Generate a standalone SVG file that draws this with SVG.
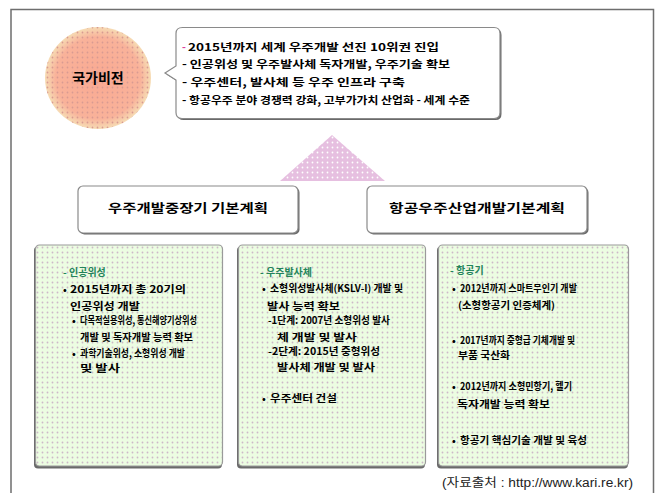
<svg xmlns="http://www.w3.org/2000/svg" width="659" height="493" viewBox="0 0 659 493">
<defs>
<pattern id="dotG" width="5" height="5" patternUnits="userSpaceOnUse">
<rect width="5" height="5" fill="#ecfde2"/>
<circle cx="2.5" cy="2.5" r="0.9" fill="#cdb8c8"/>
</pattern>
<pattern id="dotR" width="5" height="5" patternUnits="userSpaceOnUse">
<rect width="5" height="5" fill="none"/>
<circle cx="2.5" cy="2.5" r="0.9" fill="#d99a92"/>
</pattern>
<pattern id="dotP" width="5" height="5" patternUnits="userSpaceOnUse">
<rect width="5" height="5" fill="#e6bfe0"/>
<circle cx="2.5" cy="2.5" r="0.9" fill="#ffffff"/>
</pattern>
<radialGradient id="sun" cx="0.5" cy="0.5" r="0.5">
<stop offset="0" stop-color="#f9a992"/>
<stop offset="0.8" stop-color="#f9b29a"/>
<stop offset="1" stop-color="#f6dcb4"/>
</radialGradient>
</defs>
<style>
text{font-family:"Noto Sans CJK KR","Noto Sans",sans-serif;font-weight:bold;fill:#000}
.c{font-size:10.5px}
.b{font-size:10px}
.t{font-size:12.5px}
.g{fill:#23845a}
.pk{fill:#e0409a}
.sh{fill:#6a6a6a}
.box{fill:url(#dotG);stroke:#9a9a9a;stroke-width:1.2}
.wb{fill:#fff;stroke:#8a8a8a;stroke-width:1.2}
.src{font-family:"Liberation Sans","Noto Sans CJK KR",sans-serif;font-weight:normal;font-size:12px;fill:#222}
</style>
<rect width="659" height="493" fill="#fff"/>
<path d="M11 493 V9.5 H653.5 V493" fill="none" stroke="#6e6e6e" stroke-width="1.5"/>

<g id="vision">
<ellipse cx="98" cy="78" rx="53" ry="51" fill="url(#sun)"/>
<ellipse cx="98" cy="78" rx="53" ry="51" fill="url(#dotR)"/>
<text x="98" y="83" text-anchor="middle" style="font-size:14px">국가비전</text>
</g>

<g id="callout">
<path d="M182.5 27.5 H494 Q500 27.5 500 33.5 V112.5 Q500 118.5 494 118.5 H182 Q176 118.5 176 112.5 V80 L165 73 L176 66 V33.5 Q176 27.5 182.5 27.5 Z" fill="#6a6a6a" transform="translate(1.5,1.5)"/>
<path d="M182.5 27.5 H494 Q500 27.5 500 33.5 V112.5 Q500 118.5 494 118.5 H182 Q176 118.5 176 112.5 V80 L165 73 L176 66 V33.5 Q176 27.5 182.5 27.5 Z" class="wb"/>
<text class="c pk" x="182" y="51">-</text>
<text class="c" x="188" y="51" textLength="251" lengthAdjust="spacingAndGlyphs">2015년까지 세계 우주개발 선진 10위권 진입</text>
<text class="c" x="182" y="68" textLength="268" lengthAdjust="spacingAndGlyphs">- 인공위성 및 우주발사체 독자개발, 우주기술 확보</text>
<text class="c" x="182" y="86" textLength="223" lengthAdjust="spacingAndGlyphs">- 우주센터, 발사체 등 우주 인프라 구축</text>
<text class="c" x="182" y="104" textLength="288" lengthAdjust="spacingAndGlyphs">- 항공우주 분야 경쟁력 강화, 고부가가치 산업화 - 세계 수준</text>
</g>

<g id="triangle">
<path d="M332 135 L385 181 H280 Z" fill="url(#dotP)"/>
</g>

<g id="plan-left">
<rect x="79.5" y="187.5" width="220" height="47" rx="5" class="sh"/>
<rect x="78" y="186" width="220" height="47" rx="5" class="wb"/>
<text class="t" x="188" y="213" text-anchor="middle" textLength="160" lengthAdjust="spacingAndGlyphs">우주개발중장기 기본계획</text>
</g>

<g id="plan-right">
<rect x="368.5" y="187.5" width="220" height="47" rx="5" class="sh"/>
<rect x="367" y="186" width="220" height="47" rx="5" class="wb"/>
<text class="t" x="477" y="213" text-anchor="middle" textLength="176" lengthAdjust="spacingAndGlyphs">항공우주산업개발기본계획</text>
</g>

<g id="box-satellite">
<rect x="34" y="246.5" width="188" height="222" rx="4" class="sh"/>
<rect x="35.5" y="245" width="187" height="221" rx="4" class="box"/>
<text class="b g" x="63" y="276">- <tspan>인공위성</tspan></text>
<text class="b" x="63" y="293">•</text>
<text class="b" x="70" y="293" textLength="116" lengthAdjust="spacingAndGlyphs">2015년까지 총 20기의</text>
<text class="b" x="70" y="310" textLength="70" lengthAdjust="spacingAndGlyphs">인공위성 개발</text>
<text class="b" x="72" y="324">•</text>
<text class="b" x="80" y="324" textLength="117" lengthAdjust="spacingAndGlyphs">다목적실용위성, 통신해양기상위성</text>
<text class="b" x="80" y="341" textLength="113" lengthAdjust="spacingAndGlyphs">개발 및 독자개발 능력 확보</text>
<text class="b" x="72" y="357">•</text>
<text class="b" x="80" y="357" textLength="105" lengthAdjust="spacingAndGlyphs">과학기술위성, 소형위성 개발</text>
<text class="b" x="80" y="372" textLength="40" lengthAdjust="spacingAndGlyphs">및 발사</text>
</g>

<g id="box-launcher">
<rect x="237" y="246.5" width="188" height="222" rx="4" class="sh"/>
<rect x="238.5" y="245" width="187" height="221" rx="4" class="box"/>
<text class="b g" x="260" y="276">- <tspan>우주발사체</tspan></text>
<text class="b" x="262" y="292">•</text>
<text class="b" x="270" y="292" textLength="133" lengthAdjust="spacingAndGlyphs">소형위성발사체(KSLV-I) 개발 및</text>
<text class="b" x="267" y="310" textLength="73" lengthAdjust="spacingAndGlyphs">발사 능력 확보</text>
<text class="b" x="268" y="324" textLength="122" lengthAdjust="spacingAndGlyphs">-1단계: 2007년 소형위성 발사</text>
<text class="b" x="277" y="341" textLength="80" lengthAdjust="spacingAndGlyphs">체 개발 및 발사</text>
<text class="b" x="268" y="355" textLength="112" lengthAdjust="spacingAndGlyphs">-2단계: 2015년 중형위성</text>
<text class="b" x="277" y="371" textLength="98" lengthAdjust="spacingAndGlyphs">발사체 개발 및 발사</text>
<text class="b" x="262" y="402">•</text>
<text class="b" x="270" y="402" textLength="67" lengthAdjust="spacingAndGlyphs">우주센터 건설</text>
</g>

<g id="box-aircraft">
<rect x="437" y="246.5" width="191" height="222" rx="4" class="sh"/>
<rect x="438.5" y="245" width="190" height="221" rx="4" class="box"/>
<text class="b g" x="450" y="274">- <tspan>항공기</tspan></text>
<text class="b" x="452" y="292">•</text>
<text class="b" x="460" y="292" textLength="117" lengthAdjust="spacingAndGlyphs">2012년까지 스마트무인기 개발</text>
<text class="b" x="458" y="309" textLength="97" lengthAdjust="spacingAndGlyphs">(소형항공기 인증체계)</text>
<text class="b" x="452" y="344">•</text>
<text class="b" x="460" y="344" textLength="115" lengthAdjust="spacingAndGlyphs">2017년까지 중형급 기체개발 및</text>
<text class="b" x="458" y="359" textLength="52" lengthAdjust="spacingAndGlyphs">부품 국산화</text>
<text class="b" x="452" y="390">•</text>
<text class="b" x="460" y="390" textLength="112" lengthAdjust="spacingAndGlyphs">2012년까지 소형민항기, 헬기</text>
<text class="b" x="457" y="408" textLength="93" lengthAdjust="spacingAndGlyphs">독자개발 능력 확보</text>
<text class="b" x="452" y="444">•</text>
<text class="b" x="460" y="444" textLength="127" lengthAdjust="spacingAndGlyphs">항공기 핵심기술 개발 및 육성</text>
</g>

<g id="connectors"></g>

<text class="src" x="442" y="487" textLength="191" lengthAdjust="spacingAndGlyphs">(자료출처 : http://www.kari.re.kr)</text>
</svg>
